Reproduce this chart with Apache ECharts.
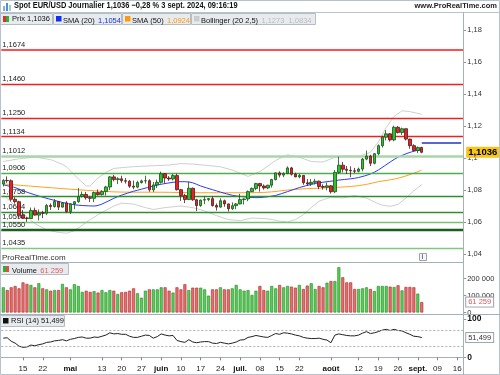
<!DOCTYPE html>
<html><head><meta charset="utf-8">
<script src="https://cdn.jsdelivr.net/npm/echarts@6/dist/echarts.min.js"></script>
<style>html,body{margin:0;padding:0;background:#fff}#c{width:500px;height:375px}</style>
</head><body><div id="c"></div>
<script>
// ---------- DATA ----------
const openP = [1.0837,1.0860,1.0858,1.0742,1.0727, 1.0642,1.0625,1.0622,1.0672,1.0643, 1.0656,1.0655,1.0703,1.0697,1.0728, 1.0693,1.0719,1.0665,1.0713,1.0727,
 1.0760,1.0772,1.0752,1.0748,1.0784, 1.0771,1.0790,1.0819,1.0882,1.0865, 1.0870,1.0858,1.0855,1.0824,1.0818, 1.0847,1.0857,1.0858,1.0801,1.0832,
 1.0848,1.0902,1.0875,1.0869,1.0890, 1.0802,1.0765,1.0740,1.0811,1.0739, 1.0703,1.0737,1.0740,1.0746,1.0703, 1.0693,1.0733,1.0713,1.0683,1.0702,
 1.0713,1.0740,1.0744,1.0790,1.0810, 1.0840,1.0825,1.0813,1.0830,1.0865, 1.0907,1.0893,1.0902,1.0938,1.0899, 1.0882,1.0891,1.0845,1.0838,1.0848,
 1.0855,1.0822,1.0817,1.0826,1.0789, 1.0910,1.0955,1.0930,1.0923,1.0920, 1.0917,1.0931,1.0993,1.1012,1.0967, 1.1027,1.1077,1.1130,1.1151,1.1113,
 1.1192,1.1159,1.1183,1.1118,1.1077, 1.1047,1.1066];
const highP = [1.0868,1.0885,1.0866,1.0755,1.0733, 1.0674,1.0632,1.0690,1.0690,1.0678, 1.0670,1.0713,1.0716,1.0743,1.0732, 1.0725,1.0730,1.0717,1.0730,1.0812,
 1.0790,1.0788,1.0759,1.0790,1.0803, 1.0799,1.0826,1.0887,1.0895,1.0880, 1.0889,1.0875,1.0862,1.0859,1.0858, 1.0865,1.0889,1.0867,1.0850,1.0865,
 1.0915,1.0905,1.0887,1.0902,1.0902, 1.0807,1.0776,1.0852,1.0815,1.0745, 1.0740,1.0761,1.0750,1.0761,1.0716, 1.0748,1.0740,1.0715,1.0723,1.0719,
 1.0776,1.0748,1.0797,1.0816,1.0845, 1.0845,1.0835,1.0832,1.0870,1.0910, 1.0917,1.0911,1.0948,1.0945,1.0908, 1.0902,1.0892,1.0868,1.0869,1.0870,
 1.0859,1.0835,1.0847,1.0830,1.0925, 1.1008,1.0975,1.0950,1.0948,1.0938, 1.0940,1.1000,1.1047,1.1020,1.1030, 1.1085,1.1138,1.1174,1.1155,1.1202,
 1.1200,1.1190,1.1185,1.1120,1.1086, 1.1072,1.1070];
const lowP = [1.0822,1.0845,1.0728,1.0715,1.0622, 1.0623,1.0601,1.0620,1.0640,1.0610, 1.0624,1.0643,1.0676,1.0690,1.0675, 1.0690,1.0660,1.0650,1.0680,1.0720,
 1.0753,1.0740,1.0724,1.0724,1.0765, 1.0766,1.0765,1.0800,1.0854,1.0837, 1.0845,1.0840,1.0813,1.0805,1.0811, 1.0840,1.0840,1.0789,1.0788,1.0812,
 1.0840,1.0842,1.0857,1.0859,1.0797, 1.0732,1.0718,1.0738,1.0732,1.0668, 1.0695,1.0712,1.0730,1.0696,1.0671, 1.0690,1.0695,1.0666,1.0676,1.0680,
 1.0710,1.0709,1.0730,1.0787,1.0799, 1.0790,1.0802,1.0805,1.0815,1.0860, 1.0879,1.0880,1.0900,1.0890,1.0880, 1.0873,1.0833,1.0826,1.0825,1.0835,
 1.0805,1.0802,1.0798,1.0778,1.0780, 1.0900,1.0910,1.0900,1.0880,1.0905, 1.0910,1.0917,1.0985,1.0950,1.0960, 1.1017,1.1065,1.1110,1.1102,1.1105,
 1.1154,1.1144,1.1110,1.1058,1.1040, 1.1030,1.1030];
const closeP = [1.0860,1.0858,1.0742,1.0727,1.0642, 1.0625,1.0622,1.0672,1.0643,1.0656, 1.0655,1.0703,1.0697,1.0728,1.0693, 1.0719,1.0665,1.0713,1.0727,1.0760,
 1.0772,1.0752,1.0748,1.0784,1.0771, 1.0790,1.0819,1.0882,1.0865,1.0870, 1.0858,1.0855,1.0824,1.0818,1.0847, 1.0857,1.0858,1.0801,1.0832,1.0848,
 1.0902,1.0875,1.0869,1.0890,1.0802, 1.0765,1.0740,1.0811,1.0739,1.0703, 1.0737,1.0740,1.0746,1.0703,1.0693, 1.0733,1.0713,1.0683,1.0702,1.0713,
 1.0740,1.0744,1.0790,1.0810,1.0840, 1.0825,1.0813,1.0830,1.0865,1.0907, 1.0893,1.0902,1.0938,1.0899,1.0882, 1.0891,1.0845,1.0838,1.0848,1.0855,
 1.0822,1.0817,1.0826,1.0789,1.0910, 1.0955,1.0930,1.0923,1.0920,1.0917, 1.0931,1.0993,1.1012,1.0967,1.1027, 1.1077,1.1130,1.1151,1.1113,1.1192,
 1.1159,1.1183,1.1118,1.1077,1.1047, 1.1066,1.1036];
const volume = [148000,132000,148000,156000,142000,177000,168000,162000,148000,172000,
 142000,136000,128000,132000,132000,168000,148000,136000,166000,156000,
 121000,128000,121000,125000,117000,132000,119000,132000,128000,109000,
 119000,121000,128000,142000,113000,87000,128000,136000,136000,136000,
 148000,148000,128000,117000,148000,136000,166000,132000,146000,146000,
 146000,136000,99000,136000,136000,148000,136000,136000,142000,162000,
 136000,128000,132000,103000,128000,156000,132000,128000,156000,142000,
 162000,148000,156000,152000,146000,162000,138000,158000,172000,138000,
 156000,148000,175000,185000,185000,266000,207000,177000,177000,138000,
 138000,142000,148000,138000,126000,156000,156000,156000,152000,150000,
 160000,130000,150000,150000,148000,111000,61259];
const sma20 = [[0,1.0832],[3,1.0815],[5,1.0795],[8,1.0770],[10,1.0755],[13,1.0735],[15,1.0722],[18,1.0708],[20,1.0703],[23,1.0700],[25,1.0712],[28,1.0748],[30,1.0768],[33,1.0792],[35,1.0805],[38,1.0825],[40,1.0836],[43,1.0848],[45,1.0852],[46,1.0852],[48,1.0845],[50,1.0825],[53,1.0802],[55,1.0787],[58,1.0767],[60,1.0760],[62,1.0755],[64,1.0752],[66,1.0755],[69,1.0766],[72,1.0790],[75,1.0815],[78,1.0835],[80,1.0845],[83,1.0855],[85,1.0862],[88,1.0870],[90,1.0878],[93,1.0900],[95,1.0925],[98,1.0975],[100,1.1005],[103,1.1035],[106,1.1054]];
const sma50 = [[0,1.0838],[8,1.0822],[17,1.0805],[25,1.0792],[30,1.0787],[40,1.0786],[50,1.0783],[58,1.0783],[66,1.0785],[74,1.0804],[83,1.0815],[88,1.0822],[92,1.0835],[95,1.0852],[99,1.0868],[102,1.0888],[105,1.0914],[106,1.0924]];
const bollUpper = [[0,1.0978],[4,1.0995],[8,1.1005],[12,1.0990],[15,1.0960],[16,1.0945],[19,1.0870],[21,1.0825],[22,1.0825],[24,1.0875],[26,1.0910],[28,1.0935],[33,1.0946],[42,1.0956],[45,1.0965],[48,1.0962],[51,1.0955],[55,1.0945],[58,1.0925],[62,1.0885],[65,1.0915],[69,1.0985],[72,1.1020],[75,1.1005],[78,1.0978],[81,1.0975],[84,1.1005],[87,1.1012],[90,1.1010],[93,1.1035],[95,1.1100],[97,1.1190],[99,1.1260],[101,1.1295],[103,1.1290],[106,1.1273]];
const bollLower = [[0,1.0770],[3,1.0700],[5,1.0655],[8,1.0590],[11,1.0550],[14,1.0535],[16,1.0530],[18,1.0545],[20,1.0580],[22,1.0615],[25,1.0660],[28,1.0700],[30,1.0718],[33,1.0712],[36,1.0690],[38,1.0678],[41,1.0690],[45,1.0700],[48,1.0690],[51,1.0670],[54,1.0640],[57,1.0615],[60,1.0608],[63,1.0625],[67,1.0620],[70,1.0605],[72,1.0600],[74,1.0615],[76,1.0645],[78,1.0690],[80,1.0730],[83,1.0755],[86,1.0750],[89,1.0765],[92,1.0750],[94,1.0725],[96,1.0705],[98,1.0698],[100,1.0710],[102,1.0750],[104,1.0795],[106,1.0834]];
const futureLevel = [[106,1.1093],[116,1.1093]];
const rsi = [[0,50],[1,51],[2,42],[3,37],[4,29],[5,26],[6,27],[7,32],[8,30],[9,33],[10,35],[11,39],[12,40],[13,43],[14,44],[15,46],[16,43],[17,47],[18,49],[19,52],[20,53],[21,50],[22,50],[23,53],[24,52],[25,55],[26,58],[27,64],[28,61],[29,62],[30,60],[31,60],[32,55],[33,52],[34,52],[35,55],[36,58],[37,57],[38,50],[39,54],[40,61],[41,58],[42,56],[43,57],[44,44],[45,41],[46,39],[47,46],[48,40],[49,38],[50,40],[51,41],[52,41],[53,37],[54,36],[55,39],[56,37],[57,35],[58,37],[59,40],[60,45],[61,46],[62,52],[63,54],[64,57],[65,55],[66,53],[67,52],[68,57],[69,62],[70,60],[71,64],[72,63],[73,61],[74,58],[75,56],[76,52],[77,50],[78,49],[79,49],[80,50],[81,47],[82,45],[83,38],[84,58],[85,61],[86,59],[87,57],[88,56],[89,56],[90,58],[91,63],[92,67],[93,62],[94,64],[95,67],[96,71],[97,73],[98,70],[99,73],[100,70],[101,69],[102,64],[103,60],[104,55],[105,54],[106,51.499]];
const levels = [
  {v:1.1674, t:'1,1674', c:'#ff5050', w:2},
  {v:1.1460, t:'1,1460', c:'#ee2020', w:1.3},
  {v:1.1250, t:'1,1250', c:'#ee2020', w:1.3},
  {v:1.1134, t:'1,1134', c:'#ee2020', w:1.3},
  {v:1.1012, t:'1,1012', c:'#a9d6a9', w:2.5},
  {v:1.0906, t:'1,0906', c:'#4caf4c', w:1.3},
  {v:1.0758, t:'1,0758', c:'#2f8f2f', w:1.3},
  {v:1.0664, t:'1,0664', c:'#2f8f2f', w:1.3},
  {v:1.0598, t:'1,0598', c:'#74c474', w:1.3},
  {v:1.0550, t:'1,0550', c:'#1c5e1c', w:2.3},
  {v:1.0435, t:'1,0435', c:'#80c880', w:1.3}
];
const xTickLabels = [[5,'15'],[10,'22'],[17,'mai'],[25,'13'],[30,'20'],[35,'27'],[40,'juin'],[45,'10'],[50,'17'],[55,'24'],[60,'juil.'],[65,'08'],[70,'15'],[75,'22'],[83,'août'],[90,'12'],[95,'19'],[100,'26'],[105,'sept.'],[110,'09'],[115,'16']];
const monthNames = ['mai','juin','juil.','août','sept.'];
const lastPrice = 1.1036, lastVolume = 61259, lastRsi = 51.499;

// categories: trading days (weekdays) from 8 April 2024, incl. future slots
const categories = [];
{ const d = new Date(Date.UTC(2024,3,8)); while (categories.length < 117) { const w = d.getUTCDay(); if (w!==0 && w!==6) categories.push(d.toISOString().slice(0,10)); d.setUTCDate(d.getUTCDate()+1); } }

// ---------- CHART ----------
const FONT = "'Liberation Sans', Arial, sans-serif";
const labelMap = {}; xTickLabels.forEach(([i,t]) => labelMap[i] = t);
const candleData = openP.map((o,i) => [o, closeP[i], lowP[i], highP[i]]);
const upVol = {color:'#58cc58', borderColor:'#1f8a1f', borderWidth:0.6};
const dnVol = {color:'#e27070', borderColor:'#b02424', borderWidth:0.6};
const volData = volume.map((v,i) => ({value:v, itemStyle: closeP[i] >= openP[i] ? upVol : dnVol}));
const fmtPrice = v => { if (Math.abs(v*50 - Math.round(v*50)) > 1e-6) return ''; return String(+v.toFixed(2)).replace('.', ','); };
const fmtVol = v => { if (v % 100000 !== 0) return ''; return String(v).replace(/\B(?=(\d{3})+(?!\d))/g, ' '); };
const HIDDEN_LINE = {color:'rgba(0,0,0,0)', width:0};

const G = {left:1.3, right:36.8};
const chart = echarts.init(document.getElementById('c'), null, {renderer:'canvas'});
const hiddenX = (gi) => ({type:'category', gridIndex:gi, data:categories, boundaryGap:true, show:false});
const option = {
  animation:false,
  backgroundColor:'#ffffff',
  textStyle:{fontFamily:FONT},
  grid:[
    {left:G.left, right:G.right, top:13, height:241},
    {left:G.left, right:G.right, top:262, height:50.5},
    {left:G.left, right:G.right, top:319, height:38.3}
  ],
  xAxis:[
    hiddenX(0), hiddenX(1),
    {type:'category', gridIndex:2, data:categories, boundaryGap:true, offset:4.7,
     axisLine:{show:true, lineStyle:{color:'#a7b0b8', width:1}},
     axisTick:{show:true, alignWithLabel:true, length:3, lineStyle:{color:'#808890'}, interval:(i)=> labelMap[i] !== undefined},
     axisLabel:{interval:(i)=> labelMap[i] !== undefined, margin:3, fontSize:8, color:'#222', fontFamily:FONT,
       formatter:(v,i)=>{ const t = labelMap[i] || ''; return monthNames.includes(t) ? '{b|'+t+'}' : t; },
       rich:{b:{fontWeight:'bold', fontSize:8, color:'#111', fontFamily:FONT}}},
     splitLine:{show:false}}
  ],
  yAxis:[
    {type:'value', gridIndex:0, position:'right', min:1.04, max:1.190625, interval:0.02,
     axisLine:{show:false}, axisTick:{show:true, length:3, lineStyle:{color:'#8a939b'}},
     axisLabel:{fontSize:7.5, color:'#333', margin:4, formatter:fmtPrice, fontFamily:FONT, showMaxLabel:false},
     splitLine:{show:false}},
    {type:'value', gridIndex:1, position:'right', min:0, max:297000, interval:100000,
     axisLine:{show:false}, axisTick:{show:true, length:3, lineStyle:{color:'#8a939b'}},
     axisLabel:{fontSize:7.5, color:'#333', margin:4, formatter:fmtVol, fontFamily:FONT, showMaxLabel:false},
     splitLine:{show:false}},
    {type:'value', gridIndex:2, position:'right', min:0, max:100, interval:100,
     axisLine:{show:false}, axisTick:{show:true, length:3, lineStyle:{color:'#8a939b'}},
     axisLabel:{fontSize:8.5, fontWeight:'bold', color:'#111', margin:4, fontFamily:FONT},
     splitLine:{show:false}}
  ],
  series:[
    {name:'levels', type:'line', xAxisIndex:0, yAxisIndex:0, data:[], z:1, silent:true,
     markLine:{silent:true, symbol:'none', animation:false, precision:5,
       data: levels.map(l => ({yAxis:l.v, lineStyle:{color:l.c, width:l.w, type:'solid'},
         label:{show:true, position:'insideStartTop', formatter:l.t, color:'#222', fontSize:7.5, fontFamily:FONT, distance:[1,1]}}))}},
    {name:'BollUp', type:'line', xAxisIndex:0, yAxisIndex:0, data:bollUpper, showSymbol:false, symbol:'none', lineStyle:{color:'#cfcfcf', width:1}, z:2},
    {name:'BollDn', type:'line', xAxisIndex:0, yAxisIndex:0, data:bollLower, showSymbol:false, symbol:'none', lineStyle:{color:'#cfcfcf', width:1}, z:2},
    {name:'SMA50', type:'line', xAxisIndex:0, yAxisIndex:0, data:sma50, showSymbol:false, symbol:'none', smooth:0.3, lineStyle:{color:'#ffa020', width:1}, z:3},
    {name:'SMA20', type:'line', xAxisIndex:0, yAxisIndex:0, data:sma20, showSymbol:false, symbol:'none', smooth:0.3, lineStyle:{color:'#2b3cf0', width:1}, z:3},
    {name:'future', type:'line', xAxisIndex:0, yAxisIndex:0, data:futureLevel, showSymbol:false, symbol:'none', lineStyle:{color:'#2233cc', width:1.5}, z:3},
    {name:'Prix', type:'candlestick', xAxisIndex:0, yAxisIndex:0, data:candleData, barWidth:3, z:5,
     itemStyle:{color:'#2ec22e', color0:'#e62222', borderColor:'#1b4f1b', borderColor0:'#4f1b1b', borderWidth:0.8},
     markLine:{silent:true, symbol:'none', animation:false, precision:5, z:20,
       data:[{yAxis:lastPrice, lineStyle:HIDDEN_LINE,
         label:{show:true, position:'end', distance:3, formatter:'1,1036', color:'#000', fontWeight:'bold', fontSize:9.5, fontFamily:FONT,
           backgroundColor:'#f7c515', padding:[1,2,0,2], opacity:1}}]}},
    {name:'Volume', type:'bar', xAxisIndex:1, yAxisIndex:1, data:volData, barWidth:3, z:3,
     markLine:{silent:true, symbol:'none', animation:false, precision:3,
       data:[{yAxis:lastVolume, lineStyle:HIDDEN_LINE,
         label:{show:true, position:'end', distance:3, formatter:'61 259', color:'#e05555', fontSize:7.5, fontFamily:FONT,
           backgroundColor:'#fff', borderColor:'#9aa2aa', borderWidth:1, padding:[1,2,0,2], opacity:1}}]}},
    {name:'RSI', type:'line', xAxisIndex:2, yAxisIndex:2, data:rsi, showSymbol:false, symbol:'none', lineStyle:{color:'#222', width:1}, z:3,
     markLine:{silent:true, symbol:'none', animation:false, precision:4,
       data:[
         {yAxis:70, lineStyle:{color:'#b0b0b0', type:[2,2], width:1}, label:{show:false}},
         {yAxis:30, lineStyle:{color:'#b0b0b0', type:[2,2], width:1}, label:{show:false}},
         {yAxis:lastRsi, lineStyle:HIDDEN_LINE,
          label:{show:true, position:'end', distance:3, formatter:'51,499', color:'#333', fontSize:7.5, fontFamily:FONT,
            backgroundColor:'#fff', borderColor:'#9aa2aa', borderWidth:1, padding:[1,2,0,2], opacity:1}}]}}
  ],
  graphic:[
    {type:'rect', shape:{x:0.5,y:0.5,width:499,height:374}, style:{fill:'none', stroke:'#b8c2ca', lineWidth:1}, z:50, silent:true},
    {type:'line', shape:{x1:0,y1:12.5,x2:500,y2:12.5}, style:{stroke:'#b8c4cc', lineWidth:1}, z:50},
    {type:'line', shape:{x1:0,y1:262.5,x2:463.5,y2:262.5}, style:{stroke:'#a7b0b8', lineWidth:1}, z:50},
    {type:'line', shape:{x1:0,y1:314.5,x2:500,y2:314.5}, style:{stroke:'#a7b0b8', lineWidth:1}, z:50},
    {type:'line', shape:{x1:463.5,y1:12.5,x2:463.5,y2:375}, style:{stroke:'#a7b0b8', lineWidth:1}, z:50},
    {type:'rect', shape:{x:3,y:6,width:2,height:5}, style:{fill:'#7fb2e0'}, z:60},
    {type:'rect', shape:{x:6,y:3,width:2,height:8}, style:{fill:'#4f8fd0'}, z:60},
    {type:'rect', shape:{x:9,y:5,width:2,height:6}, style:{fill:'#9fc7ea'}, z:60},
    {type:'text', x:14, y:1.5, scaleX:0.83, style:{text:'Spot EUR/USD Journalier 1,1036 \u22120,28 % 3 sept. 2024, 09:16:19', font:'bold 9px '+FONT, fill:'#111'}, z:60},
    {type:'text', right:3, top:2, style:{text:'www.ProRealTime.com', font:'bold 7.5px '+FONT, fill:'#222'}, z:60},
    {type:'rect', shape:{x:0.5,y:13.5,width:52,height:11}, style:{fill:'#e8ebee', stroke:'#b4bcc4', lineWidth:1}, z:60},
    {type:'rect', shape:{x:3,y:16,width:3,height:6}, style:{fill:'#d83030'}, z:61},
    {type:'rect', shape:{x:6,y:16,width:3,height:6}, style:{fill:'#30b030'}, z:61},
    {type:'text', left:12, top:15, style:{text:'Prix 1,1036', font:'7.5px '+FONT, fill:'#111'}, z:61},
    {type:'rect', shape:{x:53.5,y:13.5,width:68,height:11}, style:{fill:'#e8ebee', stroke:'#b4bcc4', lineWidth:1}, z:60},
    {type:'rect', shape:{x:56,y:16,width:5.5,height:5.5}, style:{fill:'#1030f0'}, z:61},
    {type:'text', left:63, top:15, style:{rich:{a:{font:'7.5px '+FONT, fill:'#111'}, b:{font:'7.5px '+FONT, fill:'#1a2ef0'}}, text:'{a|SMA (20)} {b|1,1054}'}, z:61},
    {type:'rect', shape:{x:122.5,y:13.5,width:68,height:11}, style:{fill:'#e8ebee', stroke:'#b4bcc4', lineWidth:1}, z:60},
    {type:'rect', shape:{x:125,y:16,width:5.5,height:5.5}, style:{fill:'#ff9a10'}, z:61},
    {type:'text', left:132, top:15, style:{rich:{a:{font:'7.5px '+FONT, fill:'#111'}, b:{font:'7.5px '+FONT, fill:'#ff9a10'}}, text:'{a|SMA (50)} {b|1,0924}'}, z:61},
    {type:'rect', shape:{x:191.5,y:13.5,width:124,height:11}, style:{fill:'#e8ebee', stroke:'#b4bcc4', lineWidth:1}, z:60},
    {type:'rect', shape:{x:194,y:16,width:5.5,height:5.5}, style:{fill:'#cccccc'}, z:61},
    {type:'text', left:201, top:15, style:{rich:{a:{font:'7.5px '+FONT, fill:'#111'}, b:{font:'7.5px '+FONT, fill:'#bbbbbb'}}, text:'{a|Bollinger (20 2,5)} {b|1,1273  1,0834}'}, z:61},
    {type:'text', left:2, top:254, style:{text:'ProRealTime.com', font:'8px '+FONT, fill:'#333'}, z:60},
    {type:'rect', shape:{x:419.5,y:253.5,width:7,height:7}, style:{fill:'#f4f6f8', stroke:'#9aa2aa', lineWidth:1}, z:60},
    {type:'text', left:421.5, top:253.5, style:{text:'i', font:'bold 6.5px '+FONT, fill:'#667'}, z:61},
    {type:'rect', shape:{x:0.5,y:263.5,width:68,height:11}, style:{fill:'#e8ebee', stroke:'#b4bcc4', lineWidth:1}, z:60},
    {type:'rect', shape:{x:3,y:266,width:3,height:6}, style:{fill:'#30b030'}, z:61},
    {type:'rect', shape:{x:6,y:266,width:3,height:6}, style:{fill:'#d85050'}, z:61},
    {type:'text', left:12, top:265, style:{rich:{a:{font:'7.5px '+FONT, fill:'#111'}, b:{font:'7.5px '+FONT, fill:'#e06060'}}, text:'{a|Volume} {b|61 259}'}, z:61},
    {type:'rect', shape:{x:0.5,y:315.5,width:64,height:11}, style:{fill:'#e8ebee', stroke:'#b4bcc4', lineWidth:1}, z:60},
    {type:'rect', shape:{x:3,y:318,width:5.5,height:5.5}, style:{fill:'#111'}, z:61},
    {type:'text', left:11, top:317, style:{text:'RSI (14) 51,499', font:'7.5px '+FONT, fill:'#111'}, z:61}
  ]
};
chart.setOption(option);
</script>
</body></html>
